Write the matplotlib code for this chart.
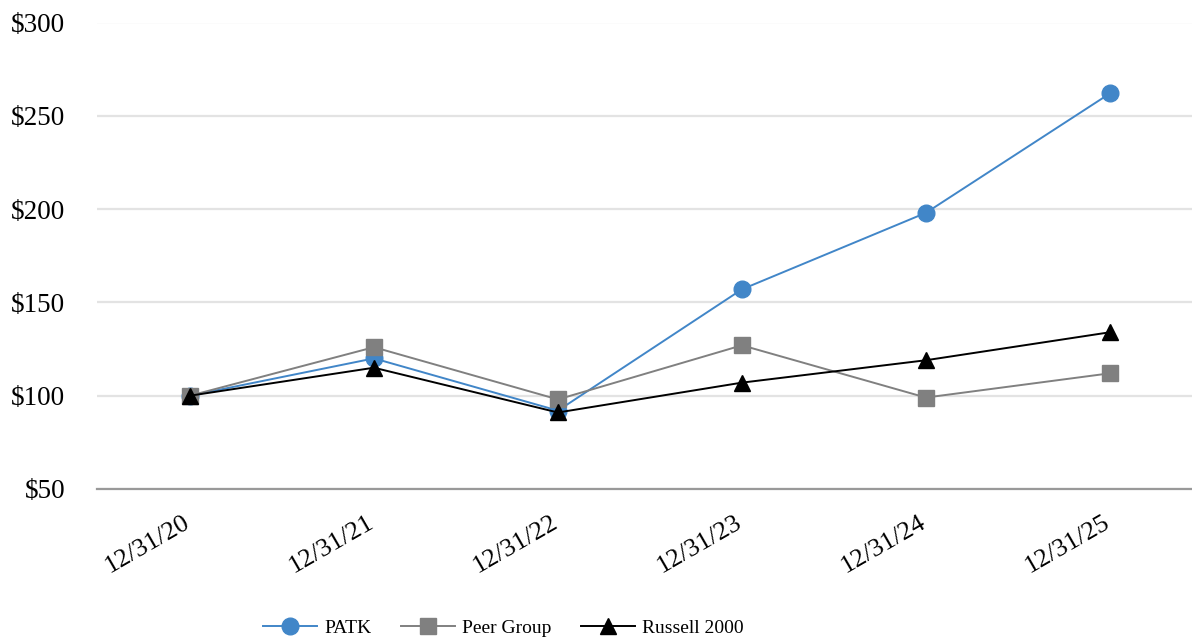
import numpy as np
import matplotlib
matplotlib.use('Agg')
import matplotlib.pyplot as plt
from matplotlib.transforms import ScaledTranslation

# cumulative total return, $100 invested at 12/31/20
dates = ['12/31/20', '12/31/21', '12/31/22', '12/31/23', '12/31/24', '12/31/25']
patk = [100, 120, 92, 157, 198, 262]
peer_group = [100, 126, 98, 127, 99, 112]
russell_2000 = [100, 115, 91, 107, 119, 134]
y_ticks = [50, 100, 150, 200, 250, 300]

plt.rcParams['font.family'] = ['Liberation Serif', 'DejaVu Serif']

fig = plt.figure(figsize=(11.92, 6.4), dpi=100)
ax = fig.add_axes([97 / 1192, 1 - 489 / 640, 1 - 97 / 1192, (489 - 22.5) / 640])

x = np.arange(len(dates))
ax.plot(x, patk, color='#4186c8', lw=1.4, marker='o', ms=12, label='PATK', zorder=3)
ax.plot(x, peer_group, color='#808080', lw=1.4, marker='s', ms=12, label='Peer Group', zorder=3)
ax.plot(x, russell_2000, color='black', lw=1.4, marker='^', ms=12, label='Russell 2000', zorder=4)

ax.set_ylim(50, 300)
ax.set_xlim(-0.505, 5.446)
ax.set_yticks(y_ticks)
ax.set_yticklabels([f'${v}' for v in y_ticks])
ax.set_xticks(x)
ax.set_xticklabels(dates, rotation=30, ha='right', rotation_mode='anchor')

ax.tick_params(axis='y', length=0, pad=23, labelsize=19.5)
ax.tick_params(axis='x', length=0, pad=16, labelsize=19)

# nudge the rotated date labels a bit to the left
shift = ScaledTranslation(-7 / 100, 0, fig.dpi_scale_trans)
for lbl in ax.get_xticklabels():
    lbl.set_transform(lbl.get_transform() + shift)

ax.grid(axis='y', color='#e3e3e3', lw=1.6)
ax.set_axisbelow(True)
for s in ['top', 'right', 'left']:
    ax.spines[s].set_visible(False)
ax.spines['bottom'].set_color('#999999')
ax.spines['bottom'].set_linewidth(1.6)

fig.legend(loc='center left', bbox_to_anchor=(263 / 1192, 1 - 628 / 640), ncol=3,
           frameon=False, fontsize=14, handlelength=2.8, handletextpad=0.36,
           columnspacing=1.5, borderpad=0, borderaxespad=0)

fig.savefig('out.png', dpi=100)
